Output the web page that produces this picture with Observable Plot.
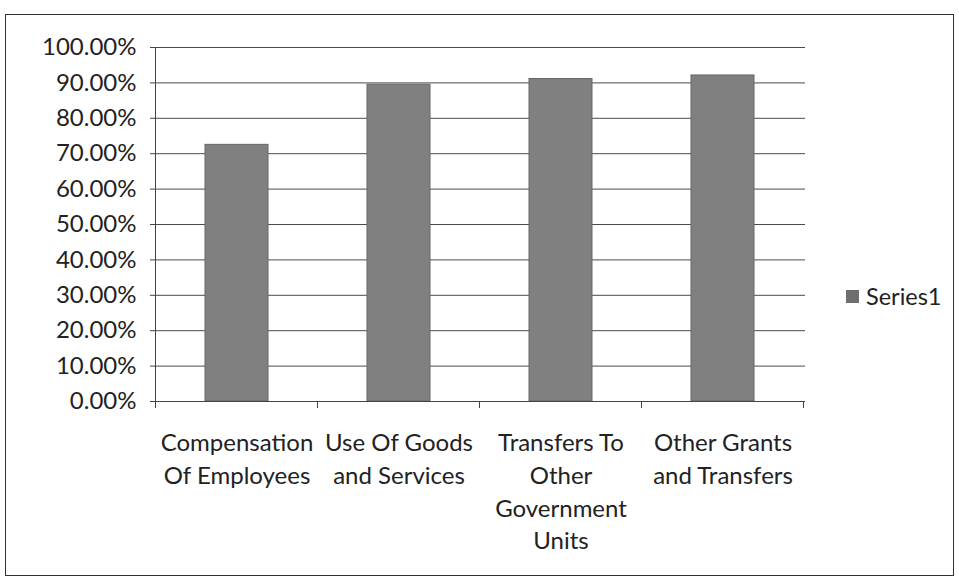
<!DOCTYPE html>
<html>
<head>
<meta charset="utf-8">
<script src="https://cdn.jsdelivr.net/npm/d3@7"></script>
<script src="https://cdn.jsdelivr.net/npm/@observablehq/plot@0.6"></script>
<style>
  html, body { margin: 0; padding: 0; background: #fff; }
  #wrap { position: relative; width: 959px; height: 582px; overflow: hidden; font-family: Lato, "Open Sans", sans-serif; }
  #border { position: absolute; left: 5px; top: 14px; width: 949px; height: 562px; border: 1.5px solid #333; box-sizing: border-box; pointer-events: none; }
  #chart { position: absolute; left: 0; top: 0; }
  #legend { position: absolute; left: 846px; top: 282px; font-size: 23.5px; color: #222; display: flex; align-items: center; }
  #legend .sw { width: 13px; height: 13px; background: #6e6e6e; margin-right: 7px; }
</style>
</head>
<body>
<div id="wrap">
  <div id="chart"></div>
  <div id="border"></div>
  <div id="legend"><span class="sw"></span><span>Series1</span></div>
</div>
<script>
const categories = [
  "Compensation Of Employees",
  "Use Of Goods and Services",
  "Transfers To Other Government Units",
  "Other Grants and Transfers"
];
const tickLabels = [
  "Compensation\nOf Employees",
  "Use Of Goods\nand Services",
  "Transfers To\nOther\nGovernment\nUnits",
  "Other Grants\nand Transfers"
];
const series1 = [0.725, 0.895, 0.911, 0.921];
const yTicks = [0, 0.1, 0.2, 0.3, 0.4, 0.5, 0.6, 0.7, 0.8, 0.9, 1.0];

const data = categories.map((c, i) => ({category: c, value: series1[i]}));
const labelOf = new Map(categories.map((c, i) => [c, tickLabels[i]]));

// band boundary ticks on the x axis, derived from the x scale
function boundaryTicks(index, scales, values, dims) {
  const g = d3.create("svg:g");
  const x = scales.x;
  const step = x.step();
  const y0 = scales.y(0);
  const xs = categories.map(c => x(c) + x.bandwidth() / 2 - step / 2);
  xs.push(x(categories[categories.length - 1]) + x.bandwidth() / 2 + step / 2);
  for (const px of xs) {
    g.append("line")
      .attr("x1", px).attr("x2", px)
      .attr("y1", y0).attr("y2", y0 + 7)
      .attr("stroke", "#444").attr("stroke-width", 1);
  }
  return g.node();
}

const chart = Plot.plot({
  width: 959,
  height: 582,
  marginLeft: 155,
  marginRight: 154,
  marginTop: 47,
  marginBottom: 181,
  style: { fontFamily: "Lato, 'Open Sans', sans-serif", background: "transparent", color: "#222" },
  x: { domain: categories, paddingInner: 0.61, paddingOuter: 0.305, label: null },
  y: { domain: [0, 1], label: null },
  marks: [
    Plot.ruleY(yTicks, { stroke: "#4a4a4a", strokeWidth: 1 }),
    Plot.barY(data, { x: "category", y: "value", fill: "#808080", stroke: "#666", strokeWidth: 1 }),
    Plot.axisY({
      ticks: yTicks,
      tickFormat: d3.format(".2%"),
      tickSize: 5,
      tickPadding: 14,
      fontSize: 24,
      stroke: "#444"
    }),
    Plot.axisX({
      tickSize: 0,
      tickPadding: 26,
      tickFormat: d => labelOf.get(d),
      fontSize: 24,
      lineHeight: 1.37
    }),
    Plot.frame({ anchor: "left", stroke: "#444" }),
    Plot.ruleY([0], { stroke: "#444" }),
    boundaryTicks
  ]
});
document.getElementById("chart").appendChild(chart);
</script>
</body>
</html>
